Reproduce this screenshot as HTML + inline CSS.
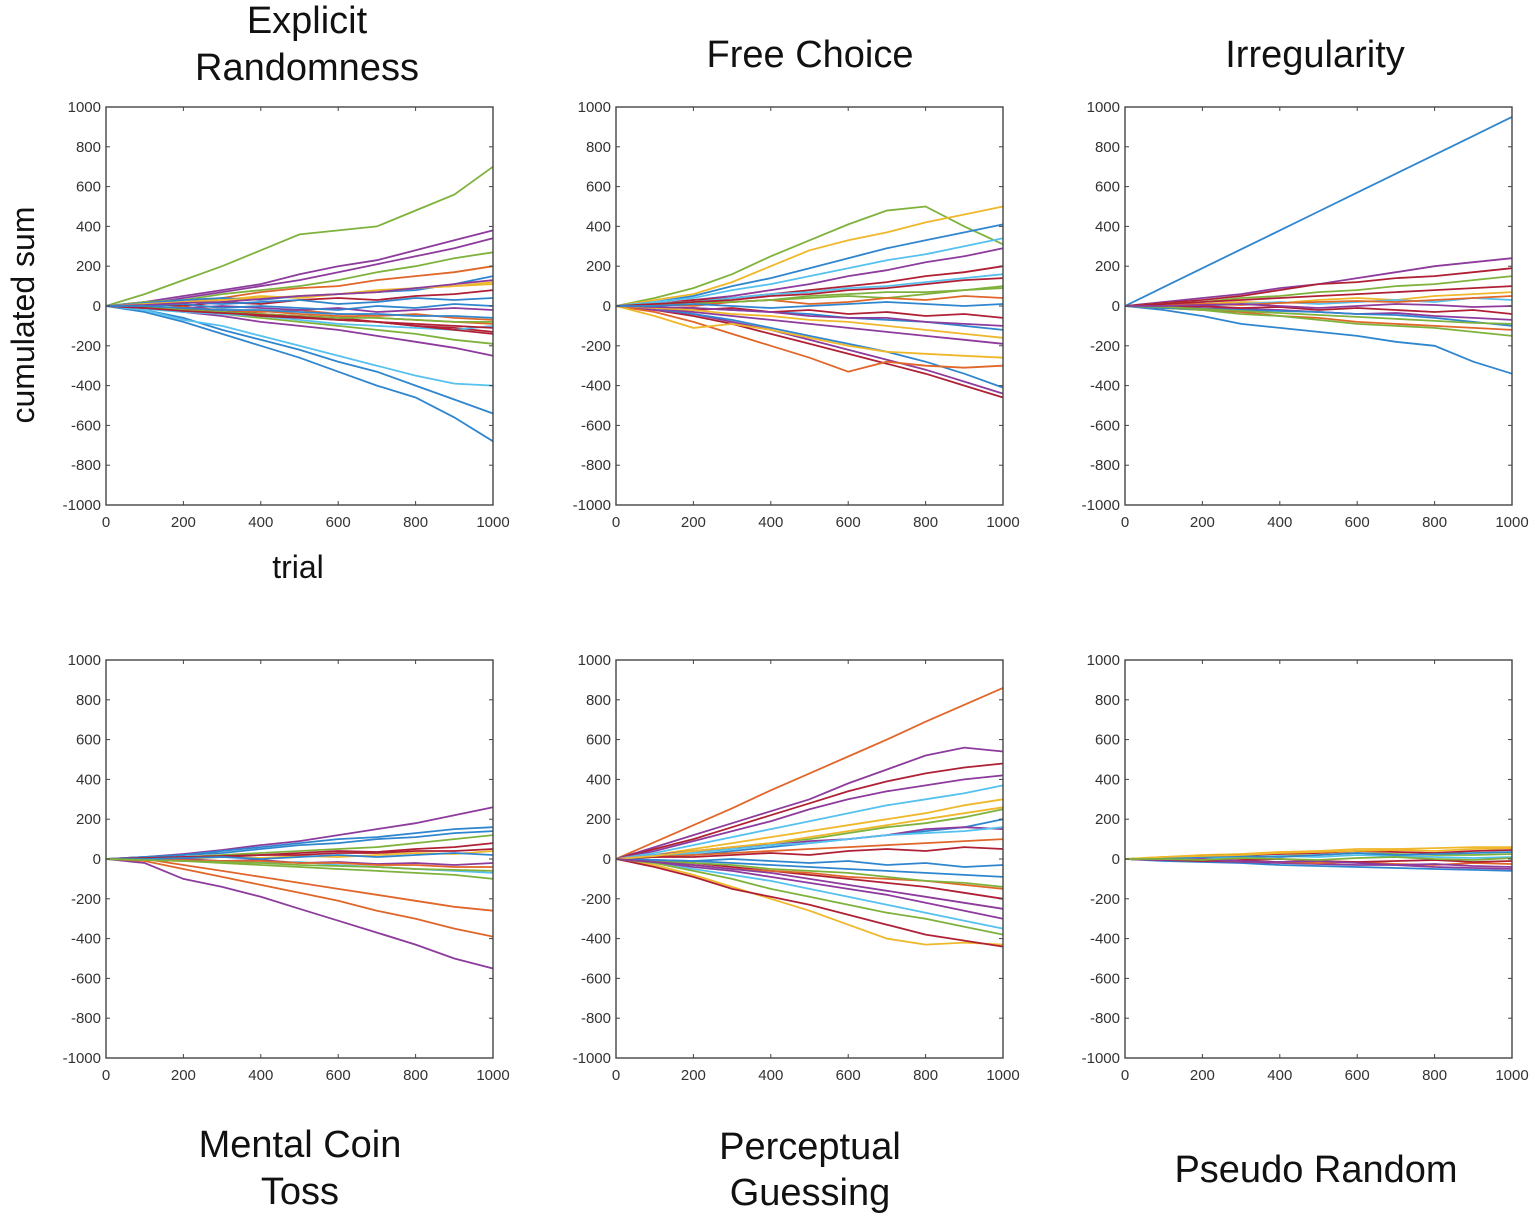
<!DOCTYPE html>
<html><head><meta charset="utf-8"><style>
body{margin:0;background:#fff;}
svg{display:block;font-family:"Liberation Sans",Arial,sans-serif;}
.t{font-size:38px;fill:#111;text-anchor:middle;}
.tk{font-size:15px;fill:#333;}
</style></head><body>
<svg id="fig" width="1535" height="1222" viewBox="0 0 1535 1222" xmlns="http://www.w3.org/2000/svg">
<text class="t" x="307" y="33">Explicit</text>
<text class="t" x="307" y="80">Randomness</text>
<text class="t" x="810" y="67">Free Choice</text>
<text class="t" x="1315" y="67">Irregularity</text>
<text class="t" x="300" y="1157">Mental Coin</text>
<text class="t" x="300" y="1204">Toss</text>
<text class="t" x="810" y="1159">Perceptual</text>
<text class="t" x="810" y="1205">Guessing</text>
<text class="t" x="1316" y="1182">Pseudo Random</text>
<text class="t" x="0" y="0" transform="translate(34,315) rotate(-90)" style="font-size:32px">cumulated sum</text>
<text class="t" x="298" y="578" style="font-size:32px">trial</text>
</svg>
<script>
const xTicks=[0,200,400,600,800,1000];
const yTicks=[-1000,-800,-600,-400,-200,0,200,400,600,800,1000];
const trials=[0,100,200,300,400,500,600,700,800,900,1000];
const C={blue:"#2f86cf",orange:"#e0662a",yellow:"#efb72a",purple:"#8d3b9c",green:"#7fb23c",lblue:"#55c1ee",red:"#b02035"};

const p1Colors=["green","blue","blue","lblue","purple","purple","green","orange","purple","green","yellow","red","red","orange","blue","purple","blue","lblue","red","orange","blue","yellow","purple","green","red","blue"];
const p1Values=[
[0,60,130,200,280,360,380,400,480,560,700],
[0,-30,-80,-140,-200,-260,-330,-400,-460,-560,-680],
[0,-20,-60,-120,-170,-220,-280,-330,-400,-470,-540],
[0,-20,-70,-100,-150,-200,-250,-300,-350,-390,-400],
[0,20,50,80,110,160,200,230,280,330,380],
[0,10,40,70,100,130,170,210,250,290,340],
[0,20,30,60,80,100,130,170,200,240,270],
[0,10,20,40,70,90,100,130,150,170,200],
[0,-10,-30,-50,-80,-100,-120,-150,-180,-210,-250],
[0,-10,-20,-40,-60,-80,-100,-120,-140,-170,-190],
[0,5,20,30,50,40,60,80,90,100,120],
[0,-5,-15,-20,-40,-50,-60,-80,-100,-110,-130],
[0,10,0,20,10,30,40,30,50,60,80],
[0,-10,-5,-20,-30,-20,-40,-50,-40,-60,-70],
[0,10,20,10,20,30,10,20,40,30,40],
[0,-5,-10,0,-10,-20,-10,-30,-20,-10,-20],
[0,15,30,40,30,50,60,70,80,110,150],
[0,-15,-30,-40,-50,-70,-90,-100,-110,-120,-100],
[0,-10,-20,-30,-50,-60,-70,-80,-90,-100,-110],
[0,-5,-10,-20,-25,-40,-50,-60,-70,-80,-90],
[0,0,10,-10,0,-10,-20,0,-10,10,0],
[0,10,20,30,40,50,60,70,90,100,110],
[0,5,15,20,35,50,60,70,90,110,130],
[0,-5,-20,-30,-40,-50,-60,-60,-70,-80,-80],
[0,-10,-25,-35,-45,-55,-70,-80,-100,-120,-140],
[0,0,-10,-20,-20,-30,-40,-40,-50,-50,-60]];

const p2Colors=["green","yellow","blue","lblue","purple","red","purple","blue","orange","yellow","red","purple","green","blue","orange","red","lblue","yellow","green","purple","red","blue"];
const p2Values=[
[0,40,90,160,250,330,410,480,500,400,310],
[0,30,60,120,200,280,330,370,420,460,500],
[0,20,50,100,140,190,240,290,330,370,410],
[0,20,40,80,110,150,190,230,260,300,340],
[0,10,30,50,80,110,150,180,220,250,290],
[0,-20,-50,-90,-140,-190,-240,-290,-340,-400,-460],
[0,-20,-40,-80,-120,-170,-220,-270,-320,-380,-440],
[0,-10,-40,-70,-110,-150,-190,-230,-280,-340,-410],
[0,-30,-80,-140,-200,-260,-330,-280,-300,-310,-300],
[0,-50,-110,-90,-120,-160,-200,-230,-240,-250,-260],
[0,10,30,40,60,80,100,120,150,170,200],
[0,-10,-30,-50,-70,-90,-110,-130,-150,-170,-190],
[0,5,10,20,30,40,50,40,60,80,100],
[0,-5,-10,-20,-30,-40,-60,-70,-80,-100,-120],
[0,10,0,20,30,10,20,40,30,50,40],
[0,-5,-20,-10,-30,-20,-40,-30,-50,-40,-60],
[0,15,20,40,60,70,90,100,120,140,160],
[0,-10,-20,-40,-50,-70,-80,-100,-120,-140,-160],
[0,10,20,20,30,50,60,70,70,80,90],
[0,-5,-10,-20,-30,-50,-60,-60,-80,-90,-100],
[0,10,20,30,50,60,80,90,110,130,140],
[0,0,10,0,-10,0,10,20,10,0,10]];

const p3Colors=["blue","blue","purple","red","green","orange","green","yellow","purple","lblue","red","orange","blue","red","green","purple"];
const p3Values=[
[0,95,190,285,380,475,570,665,760,855,950],
[0,-20,-50,-90,-110,-130,-150,-180,-200,-280,-340],
[0,20,40,60,90,110,140,170,200,220,240],
[0,15,30,50,80,110,120,140,150,170,190],
[0,10,20,40,50,70,80,100,110,130,150],
[0,-10,-20,-30,-50,-60,-80,-90,-100,-110,-120],
[0,-10,-20,-40,-50,-70,-90,-100,-110,-130,-150],
[0,5,10,20,15,30,40,30,50,60,70],
[0,-5,-10,-15,-20,-30,-40,-35,-50,-60,-70],
[0,5,0,10,20,10,20,30,20,40,30],
[0,-5,0,-10,-5,-20,-10,-20,-30,-20,-40],
[0,5,10,5,15,20,25,20,30,40,50],
[0,-10,-15,-20,-25,-30,-40,-45,-60,-80,-100],
[0,10,20,30,40,50,60,70,80,90,100],
[0,-5,-15,-25,-35,-45,-55,-65,-75,-85,-90],
[0,0,5,10,0,-10,0,10,5,-5,0]];

const p4Colors=["purple","orange","orange","purple","blue","green","green","red","lblue","yellow","purple","blue","red","orange","blue","green"];
const p4Values=[
[0,-20,-100,-140,-190,-250,-310,-370,-430,-500,-550],
[0,-10,-50,-90,-130,-170,-210,-260,-300,-350,-390],
[0,0,-30,-60,-90,-120,-150,-180,-210,-240,-260],
[0,10,25,45,70,90,120,150,180,220,260],
[0,10,20,40,60,80,100,110,130,150,160],
[0,5,10,20,30,40,50,60,80,100,120],
[0,-5,-10,-20,-30,-40,-50,-60,-70,-80,-100],
[0,5,10,15,20,30,40,35,50,60,80],
[0,-5,-5,-10,-20,-15,-30,-40,-50,-60,-70],
[0,5,0,10,5,15,10,20,30,25,40],
[0,-5,0,-10,-5,-20,-15,-25,-20,-30,-20],
[0,10,20,30,50,70,80,100,110,130,140],
[0,5,10,10,20,20,30,30,40,40,50],
[0,-5,-5,-10,-10,-20,-20,-30,-30,-40,-40],
[0,0,5,10,0,10,20,10,20,30,20],
[0,-5,-10,-15,-20,-30,-35,-40,-50,-55,-60]];

const p5Colors=["orange","purple","red","purple","lblue","yellow","green","blue","red","lblue","yellow","red","green","purple","orange","blue","purple","orange","lblue","green","red","blue","yellow","purple"];
const p5Values=[
[0,85,170,255,345,430,515,600,690,775,860],
[0,60,120,180,240,300,380,450,520,560,540],
[0,50,100,160,220,280,340,390,430,460,480],
[0,40,90,140,190,250,300,340,370,400,420],
[0,30,70,110,150,190,230,270,300,330,370],
[0,20,50,80,110,140,170,200,230,270,300],
[0,15,30,60,80,100,130,160,180,210,250],
[0,10,20,40,60,80,100,120,140,160,200],
[0,-10,-20,-40,-60,-80,-100,-120,-140,-170,-200],
[0,-20,-50,-80,-110,-150,-190,-230,-270,-310,-350],
[0,-30,-80,-140,-200,-260,-330,-400,-430,-420,-430],
[0,-40,-90,-150,-190,-230,-280,-330,-380,-410,-440],
[0,-20,-60,-100,-150,-190,-230,-270,-300,-340,-380],
[0,-15,-40,-60,-90,-120,-150,-180,-220,-260,-300],
[0,10,20,30,40,50,60,70,80,90,100],
[0,-5,-10,-20,-30,-40,-50,-60,-70,-80,-90],
[0,20,40,60,70,90,100,120,150,160,150],
[0,-10,-30,-50,-60,-70,-90,-100,-110,-130,-150],
[0,20,30,50,70,80,100,120,130,140,160],
[0,-10,-20,-30,-50,-60,-70,-90,-110,-120,-140],
[0,10,10,20,30,20,40,50,40,60,50],
[0,-5,-10,0,-10,-20,-10,-30,-20,-40,-30],
[0,15,40,60,80,110,140,170,200,230,260],
[0,-15,-30,-50,-70,-100,-130,-160,-190,-220,-250]];

const p6Colors=["yellow","blue","red","purple","green","orange","lblue","red","blue","purple","yellow","green"];
const p6Values=[
[0,10,20,25,35,40,50,50,55,60,60],
[0,-10,-15,-20,-30,-35,-40,-45,-50,-55,-60],
[0,5,15,20,25,30,40,35,30,40,45],
[0,-5,-10,-15,-20,-25,-30,-30,-40,-45,-50],
[0,5,10,5,15,20,30,25,20,20,25],
[0,-5,-5,-10,-15,-20,-15,-25,-30,-20,-25],
[0,5,0,10,15,10,20,15,10,5,10],
[0,-5,-10,-5,0,-10,-15,-10,-5,-15,-10],
[0,5,10,15,10,20,30,20,25,30,35],
[0,-5,0,-10,-15,-10,-20,-30,-25,-35,-40],
[0,10,15,20,30,35,40,45,40,50,55],
[0,0,-5,5,0,-5,5,10,0,-5,5]];

const NS="http://www.w3.org/2000/svg";
const svg=document.getElementById('fig');
function mk(tag,attrs,parent){const e=document.createElementNS(NS,tag);for(const k in attrs)e.setAttribute(k,attrs[k]);(parent||svg).appendChild(e);return e;}
const panels=[
 {id:"explicit-randomness",x:106,y:107,vals:p1Values,cols:p1Colors},
 {id:"free-choice",x:616,y:107,vals:p2Values,cols:p2Colors},
 {id:"irregularity",x:1125,y:107,vals:p3Values,cols:p3Colors},
 {id:"mental-coin-toss",x:106,y:660,vals:p4Values,cols:p4Colors},
 {id:"perceptual-guessing",x:616,y:660,vals:p5Values,cols:p5Colors},
 {id:"pseudo-random",x:1125,y:660,vals:p6Values,cols:p6Colors}];
const W=387,H=398;
panels.forEach(p=>{
  const g=mk('g',{});
  
  
  const sx=v=>p.x+v/1000*W;
  const sy=v=>p.y+H-(v+1000)/2000*H;
  p.vals.forEach((vals,i)=>{
    const d=vals.map((v,j)=>(j?'L':'M')+sx(trials[j]).toFixed(1)+','+sy(v).toFixed(1)).join('');
    const path=mk('path',{d:d,fill:'none',stroke:C[p.cols[i]],'stroke-width':1.8},g);
    
    
  });
  const box=mk('rect',{x:p.x,y:p.y,width:W,height:H,fill:'none',stroke:'#444','stroke-width':1.4},g);
  
  
  yTicks.forEach(t=>{
    mk('line',{x1:p.x,x2:p.x+4,y1:sy(t),y2:sy(t),stroke:'#444'},g);
    mk('line',{x1:p.x+W,x2:p.x+W-4,y1:sy(t),y2:sy(t),stroke:'#444'},g);
    const tx=mk('text',{x:p.x-5,y:sy(t)+5,'text-anchor':'end',class:'tk'},g);
    tx.textContent=t;
    
    
  });
  xTicks.forEach(t=>{
    mk('line',{x1:sx(t),x2:sx(t),y1:p.y+H,y2:p.y+H-4,stroke:'#444'},g);
    mk('line',{x1:sx(t),x2:sx(t),y1:p.y,y2:p.y+4,stroke:'#444'},g);
    const tx=mk('text',{x:sx(t),y:p.y+H+22,'text-anchor':'middle',class:'tk'},g);
    tx.textContent=t;
    
    
  });
});
</script>
</body></html>
